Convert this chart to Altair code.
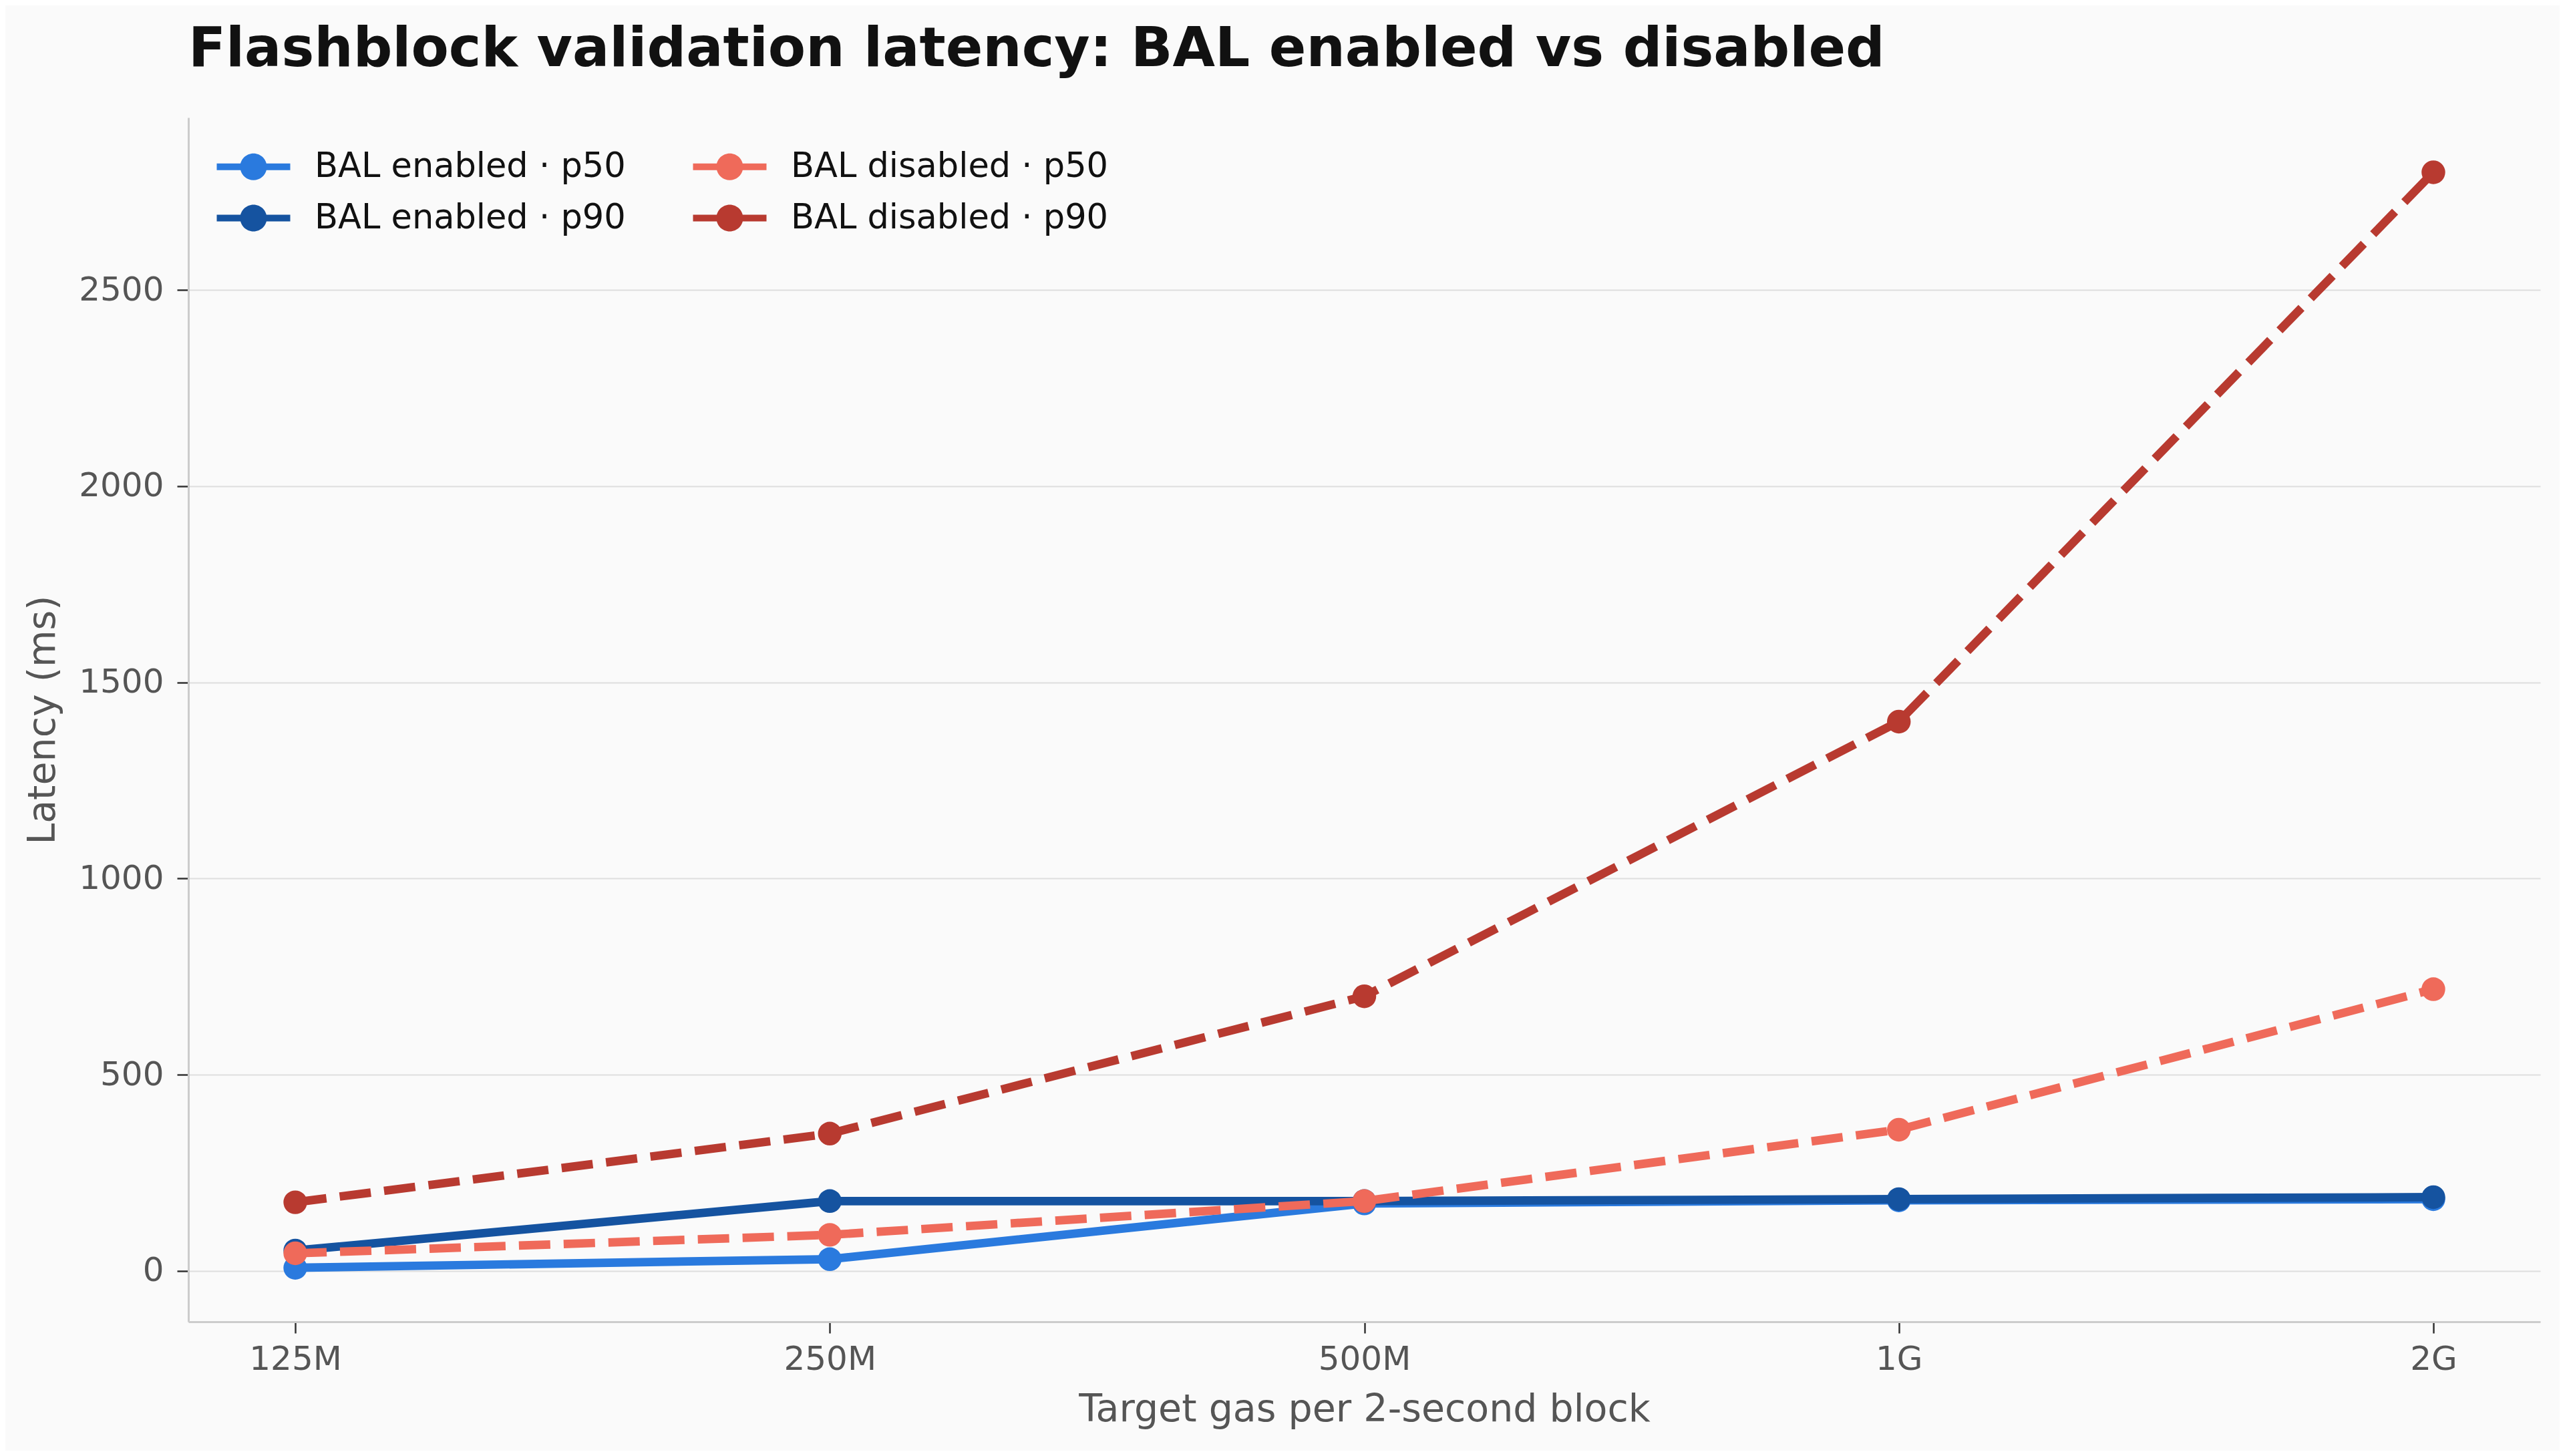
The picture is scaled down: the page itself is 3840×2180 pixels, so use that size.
import altair as alt
import pandas as pd

gas_labels = ["125M", "250M", "500M", "1G", "2G"]
enabled_p50 = [8, 30, 172, 180, 183]
enabled_p90 = [52, 178, 178, 183, 188]
disabled_p50 = [45, 92, 178, 360, 718]
disabled_p90 = [175, 350, 700, 1400, 2800]

series_names = ["BAL enabled · p50", "BAL enabled · p90", "BAL disabled · p50", "BAL disabled · p90"]
series_values = [enabled_p50, enabled_p90, disabled_p50, disabled_p90]
series_colors = ["#2a7ade", "#1553a0", "#ef6a5a", "#b83a30"]
series_dashed = [False, False, True, True]
y_ticks = [0, 500, 1000, 1500, 2000, 2500]

rows = []
for name, vals in zip(series_names, series_values):
    for g, v in zip(gas_labels, vals):
        rows.append({"gas": g, "latency": v, "series": name})
df = pd.DataFrame(rows)

color_scale = alt.Scale(domain=series_names, range=series_colors)

FONT = "DejaVu Sans"

x_enc = alt.X(
    "gas:N",
    sort=gas_labels,
    scale=alt.Scale(type="point", padding=0.2),
    axis=alt.Axis(
        title="Target gas per 2-second block",
        labelAngle=0,
        grid=False,
        labelPadding=14,
        titlePadding=22,
    ),
)
y_enc = alt.Y(
    "latency:Q",
    scale=alt.Scale(domain=[-129.5, 2939.5], nice=False, zero=False),
    axis=alt.Axis(
        title="Latency (ms)",
        values=y_ticks,
        format="d",
        grid=True,
        labelPadding=20,
        titlePadding=24,
    ),
)

legend_path = "M-2.75,-0.25L2.75,-0.25L2.75,0.25L-2.75,0.25Z M1,0A1,1 0 1,1 -1,0A1,1 0 1,1 1,0Z"

legend = alt.Legend(
    title=None,
    orient="none",
    legendX=72,
    legendY=48,
    columns=2,
    symbolType=legend_path,
    symbolSize=1600,
    symbolStrokeWidth=0,
    symbolOpacity=1,
    labelOffset=66,
    labelFontSize=51,
    labelFont=FONT,
    labelColor="#111111",
    labelLimit=2000,
    rowPadding=25,
    columnPadding=100,
    padding=0,
)

layers = []
for name, color, dashed in zip(series_names, series_colors, series_dashed):
    base = alt.Chart(df).transform_filter(alt.datum.series == name)
    line_kwargs = dict(strokeWidth=12.7, strokeCap="butt", strokeJoin="round", color=color)
    if dashed:
        line_kwargs["strokeDash"] = [47, 20]
    line = base.mark_line(**line_kwargs).encode(x=x_enc, y=y_enc)
    pts = base.mark_circle(size=1257, opacity=1).encode(
        x=x_enc,
        y=y_enc,
        color=alt.Color("series:N", scale=color_scale, legend=legend),
    )
    layers += [line, pts]

chart = (
    alt.layer(*layers)
    .properties(
        width=3521,
        height=1803,
        title=alt.TitleParams(
            "Flashblock validation latency: BAL enabled vs disabled",
            anchor="start",
            frame="group",
            fontSize=82,
            font=FONT,
            fontWeight="bold",
            color="#111111",
            offset=60,
        ),
        autosize=alt.AutoSizeParams(type="none"),
        padding={"left": 274, "top": 168, "right": 29, "bottom": 193},
        background="#fafafa",
    )
    .configure_view(stroke=None)
    .configure_axis(
        labelFont=FONT,
        titleFont=FONT,
        labelFontSize=50,
        titleFontSize=57,
        labelColor="#555555",
        titleColor="#555555",
        titleFontWeight="normal",
        domainColor="#cccccc",
        domainWidth=3,
        tickColor="#333333",
        tickWidth=2.5,
        tickSize=17,
        gridColor="#dedede",
        gridWidth=2,
    )
)

chart.save("out.html", embed_options={"renderer": "svg", "actions": False})
